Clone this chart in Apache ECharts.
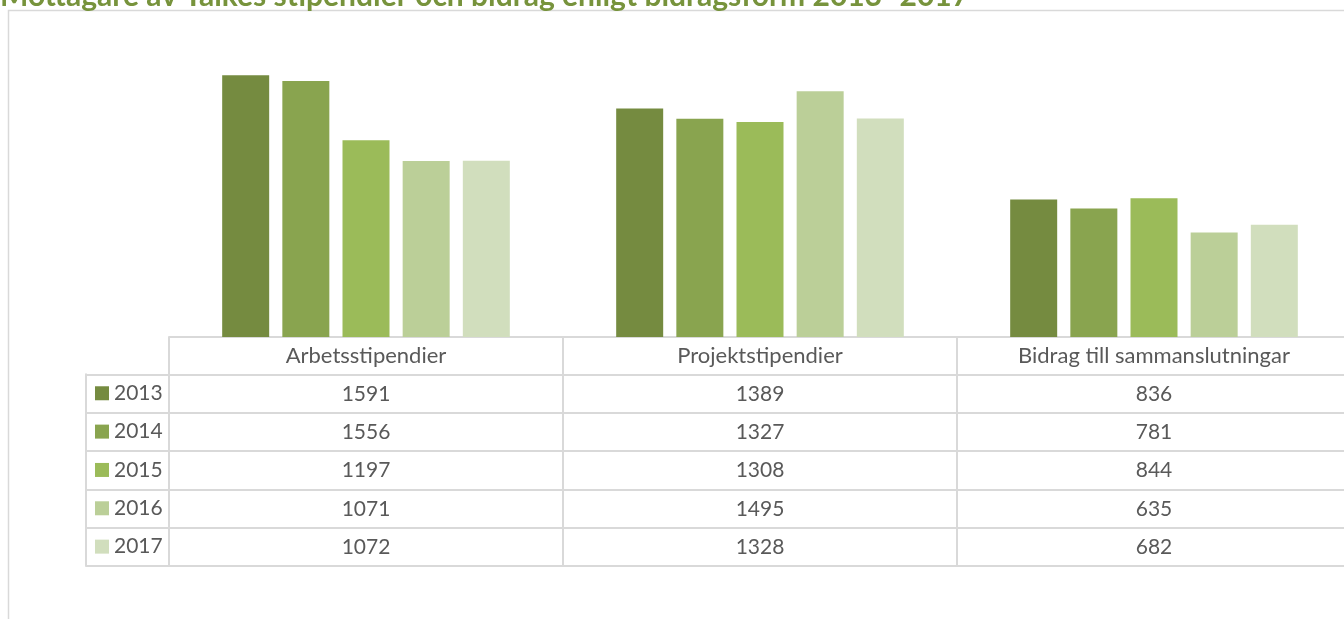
<!DOCTYPE html>
<html>
<head>
<meta charset="utf-8">
<title>Mottagare av Taikes stipendier och bidrag</title>
<script src="https://cdn.jsdelivr.net/npm/echarts@6/dist/echarts.min.js"></script>
<style>
  html, body { margin: 0; padding: 0; background: #fff; }
  #container { width: 1344px; height: 619px; }
</style>
</head>
<body>
<div id="container"></div>
<script>
var titleText = 'Mottagare av Taikes stipendier och bidrag enligt bidragsform 2013–2017';
var categories = ['Arbetsstipendier', 'Projektstipendier', 'Bidrag till sammanslutningar'];
var years = ['2013', '2014', '2015', '2016', '2017'];
var v2013 = [1591, 1389, 836];
var v2014 = [1556, 1327, 781];
var v2015 = [1197, 1308, 844];
var v2016 = [1071, 1495, 635];
var v2017 = [1072, 1328, 682];
var rows = [v2013, v2014, v2015, v2016, v2017];
var colors = ['#758b40', '#89a44f', '#9bbb59', '#bbcf98', '#d1debd'];

var font = 'Lato';
var textColor = '#595959';
var lineColor = '#d9d9d9';
var rowH = 38.34;
var tableTop = 337;
var firstRow = 374.3;

var dom = document.getElementById('container');
var myChart = echarts.init(dom, null, {renderer: 'canvas'});

// header axis + one axis per data row (labels only)
var xAxes = [{
  type: 'category',
  gridIndex: 0,
  data: categories,
  position: 'bottom',
  axisLine: { lineStyle: { color: lineColor, width: 2 } },
  axisTick: { show: true, length: 229, lineStyle: { color: lineColor, width: 2 } },
  axisLabel: { fontFamily: font, fontSize: 22, color: textColor, margin: 8 }
}];
for (var i = 0; i < rows.length; i++) {
  xAxes.push({
    type: 'category',
    gridIndex: 0,
    data: rows[i].map(String),
    position: 'bottom',
    offset: firstRow - tableTop + rowH * i,
    axisLine: { show: false },
    axisTick: { show: false },
    axisLabel: { fontFamily: font, fontSize: 21, color: textColor, margin: 9 }
  });
}
xAxes.push({ type: 'value', gridIndex: 1, show: false });

var series = [];
for (var j = 0; j < years.length; j++) {
  series.push({
    name: years[j],
    type: 'bar',
    xAxisIndex: 0,
    yAxisIndex: 0,
    data: rows[j],
    barWidth: 47,
    barGap: '28%',
    itemStyle: { color: colors[j] }
  });
}

myChart.setOption({
  backgroundColor: '#fff',
  animation: false,
  color: colors,
  title: {
    text: titleText,
    left: 0,
    top: -19,
    padding: 0,
    textStyle: { fontFamily: font, fontSize: 30, fontWeight: 'bold', color: '#77933c' }
  },
  graphic: [{
    type: 'rect',
    z: -10,
    shape: { x: 8.5, y: 10.5, width: 1400, height: 700 },
    style: { fill: 'none', stroke: lineColor, lineWidth: 1.5 }
  }],
  legend: {
    data: years,
    orient: 'vertical',
    left: 95,
    top: firstRow - 0.2,
    padding: 0,
    itemGap: 0,
    itemWidth: 14,
    itemHeight: 14,
    textGap: 5,
    icon: 'rect',
    textStyle: { fontFamily: font, fontSize: 21, lineHeight: rowH, color: textColor }
  },
  grid: [
    { left: 169, top: 41, width: 1182, height: 296, outerBoundsMode: 'none' },
    { left: 86, top: firstRow, width: 1265, height: rowH * 5, outerBoundsMode: 'none' }
  ],
  xAxis: xAxes,
  yAxis: [
    { type: 'value', gridIndex: 0, min: 0, max: 1800, show: false },
    {
      type: 'category',
      gridIndex: 1,
      data: years,
      inverse: true,
      axisLine: { show: true, lineStyle: { color: lineColor, width: 2 } },
      axisTick: { show: false },
      axisLabel: { show: false },
      splitLine: { show: true, lineStyle: { color: lineColor, width: 2 } }
    }
  ],
  series: series
});
</script>
</body>
</html>
